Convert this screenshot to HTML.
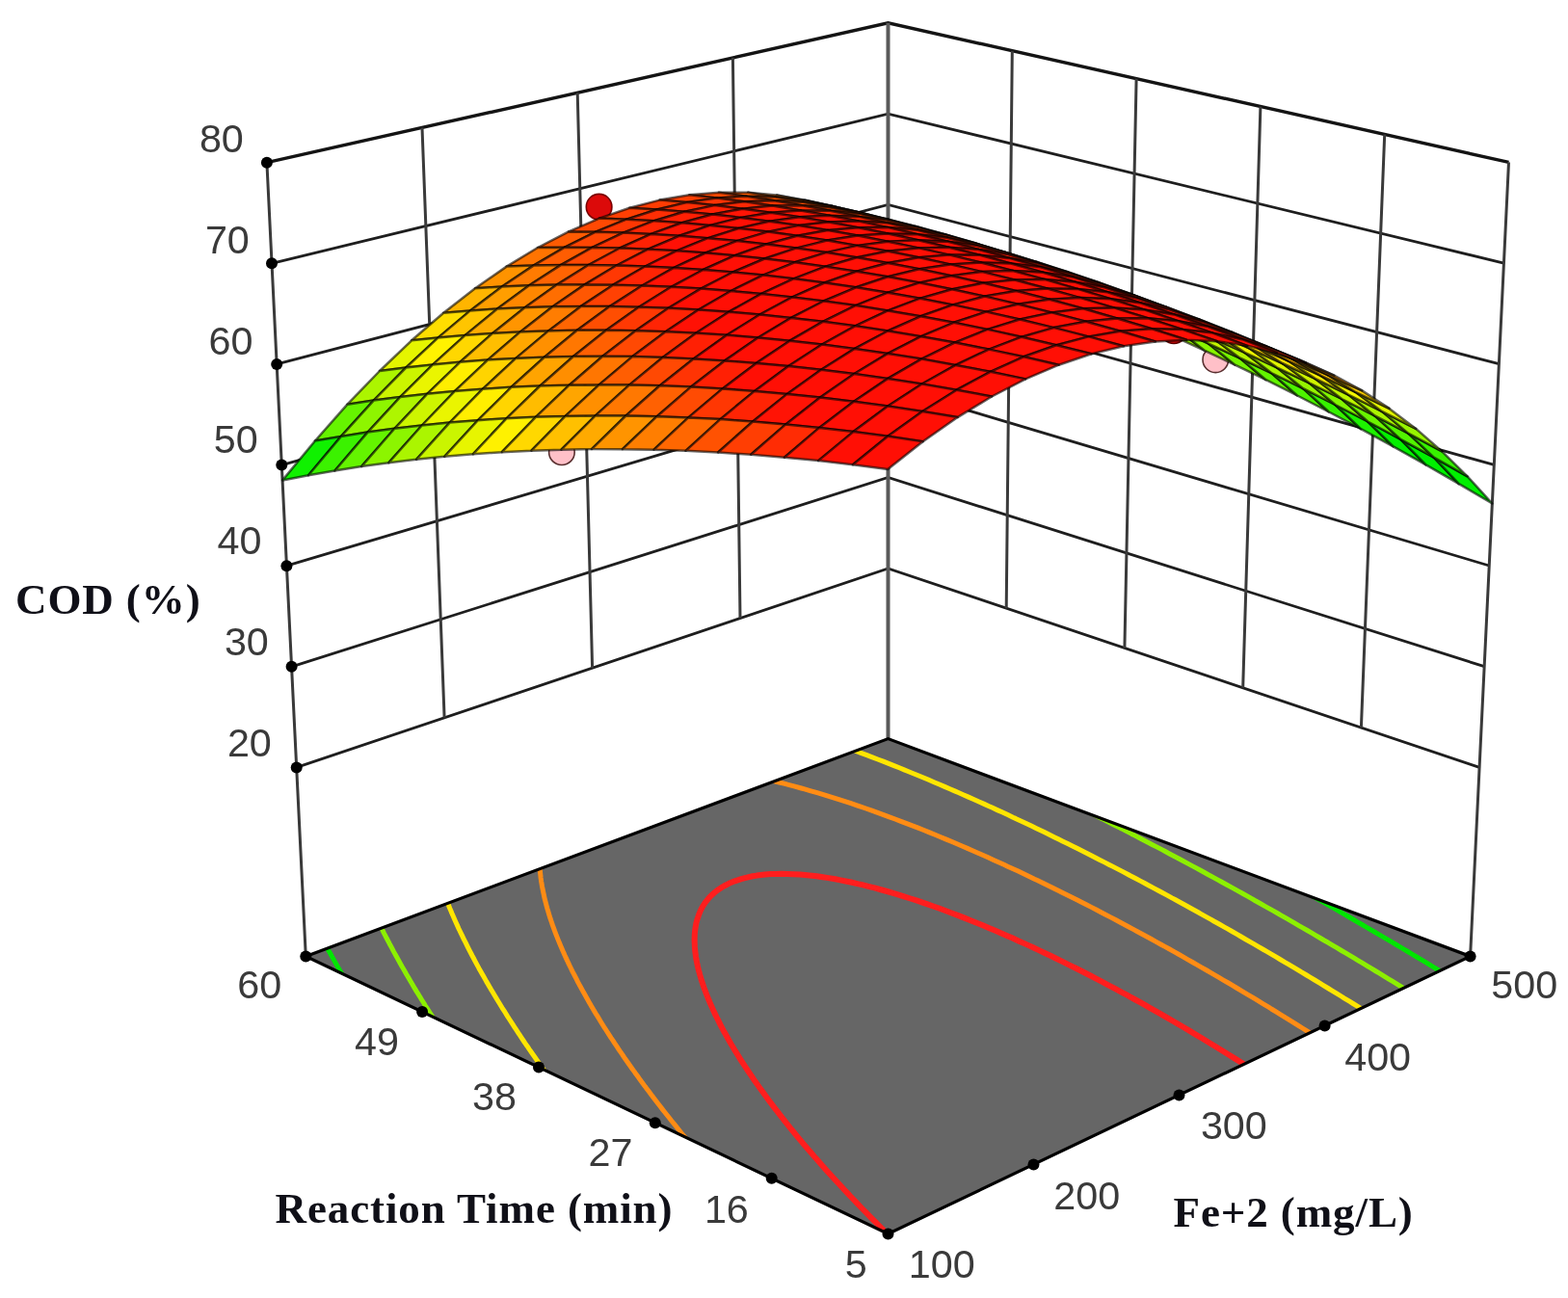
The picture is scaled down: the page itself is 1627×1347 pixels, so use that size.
<!DOCTYPE html>
<html lang="en"><head><meta charset="utf-8"><title>COD (%) response surface</title>
<style>html,body{margin:0;padding:0;background:#fff}body{width:1627px;height:1347px;overflow:hidden}svg{display:block;filter:blur(0.55px)}</style>
</head><body>
<svg width="1627" height="1347" viewBox="0 0 1627 1347">
<rect x="0" y="0" width="1627" height="1347" fill="#ffffff"/>
<g fill="none" stroke-linecap="butt">
<path d="M307.7 796.4L921.5 589.9L1535.1 796.4M302.6 691.8L921.5 495.5L1540.2 691.7M297.4 587.2L921.5 401.2L1545.2 587M292.3 482.6L921.5 306.8L1550.3 482.4M287.2 377.9L921.5 212.5L1555.4 377.7M282 273.3L921.5 118.1L1560.4 273.1" stroke="#1e1e1e" stroke-width="2.8" stroke-linejoin="miter"/>
<path d="M276.9 168.7L921.5 23.8L1565.5 168.4" stroke="#141414" stroke-width="3.4" stroke-linejoin="miter"/>
<path d="M438 132.5L461.1 744.8M599.2 96.2L614.6 693.2M760.4 60L768 641.5M1050.3 52.7L1044.2 631.2M1179.1 81.6L1166.9 672.5M1307.9 110.6L1289.7 713.8M1436.7 139.5L1412.4 755.1M276.9 168.7L317.3 992.4M1565.5 168.4L1525.6 992.4" stroke="#3a3a3a" stroke-width="3.0"/>
<path d="M921.5 23.8L921.5 766.6" stroke="#5a5a5a" stroke-width="4.0"/>
</g>
<defs><clipPath id="fc"><path d="M317.3 992.4L921.5 766.6L1525.6 992.4L921.5 1280.4Z"/></clipPath></defs>
<path d="M317.3 992.4L921.5 766.6L1525.6 992.4L921.5 1280.4Z" fill="#666666"/>
<g clip-path="url(#fc)" fill="none" stroke-width="5.0" stroke-linecap="butt" stroke-linejoin="round">
<path d="M1504.6 1014L1501.8 1012.3L1496.2 1008.9L1492 1006.3L1487.8 1003.8L1482.2 1000.4L1479.4 998.7L1473.9 995.4L1470.7 993.5L1465.5 990.4L1460 987L1457.2 985.4L1451.7 982.1L1449 980.5L1443.4 977.2L1438.2 974.1L1435.2 972.3L1429.7 969.1L1426.9 967.5L1421.5 964.3L1416 961.1L1413.3 959.5L1407.8 956.3L1404.8 954.5L1399.6 951.5L1394.2 948.4L1391.5 946.8L1386.1 943.7L1382 941.3L1377.9 939L1372.5 935.9L1369.8 934.4L1364.4 931.3L1359 928.3L1356.4 926.7L1351 923.7L1346.8 921.3L1342.9 919.2L1337.6 916.2L1334.8 914.6L1329.6 911.7L1324.2 908.7L1322.6 907.8" stroke="#00e600"/>
<path d="M335.7 976.6L336.7 978.6L337.9 980.8L339.9 984.4L340.9 986.4L342.3 988.8L344.2 992.3L345.3 994.2L346.8 996.9L348.6 1000.1L349.7 1002.1L351.5 1005.2L353.1 1008L354.3 1010L356.3 1013.6L357.7 1015.9L358.9 1017.9L361.3 1021.9L362.4 1023.9L363.9 1026.4L363.9 1026.4" stroke="#00e600"/>
<path d="M1467 1032L1462.5 1029.2L1458.6 1026.8L1453 1023.3L1450.2 1021.6L1444.6 1018.2L1441.1 1016.1L1436.3 1013.1L1430.7 1009.7L1427.9 1008L1422.4 1004.7L1419.3 1002.8L1414.1 999.7L1408.5 996.3L1405.8 994.7L1400.3 991.4L1397 989.4L1392 986.5L1386.5 983.2L1383.8 981.6L1378.3 978.3L1374.2 976L1370 973.5L1364.6 970.3L1361.8 968.7L1356.4 965.5L1350.9 962.4L1348.2 960.8L1342.8 957.6L1338.9 955.4L1334.6 952.9L1329.2 949.8L1326.5 948.3L1321.1 945.2L1315.6 942.1L1312.9 940.6L1307.5 937.5L1302.1 934.5L1299.4 932.9L1294.1 929.9L1289.4 927.3L1286 925.4L1280.6 922.4L1276.5 920.1L1272.6 918L1267.2 915L1263.3 912.9L1259.2 910.6L1253.8 907.7L1249.9 905.5L1245.8 903.3L1240.5 900.4L1236.2 898.1L1232.5 896.1L1227.2 893.3L1222.1 890.5L1219.2 889L1213.9 886.2L1208.6 883.3L1206 881.9L1200.7 879.1L1195.4 876.4L1192.7 875L1187.4 872.2L1182.1 869.5L1177.6 867.1L1174.2 865.4L1168.9 862.6L1163.7 859.9L1161 858.6L1155.7 855.9L1150.5 853.2L1145.3 850.6L1142.6 849.2L1137.3 846.6L1132.1 843.9L1128.2 842L1124.2 840L1118.9 837.4L1113.7 834.8L1110.3 833.2L1105.8 830.9L1100.5 828.4L1095.3 825.8L1091.4 823.9L1087.4 822L1082.2 819.5L1076.9 817L1071.7 814.5L1071.2 814.3" stroke="#8cf000"/>
<path d="M392.1 955.6L393.1 957.6L394.5 960.6L396 963.5L397 965.4L398.3 968.1L400 971.3L401 973.3L402.3 975.7L404.1 979.2L405.2 981.2L406.4 983.4L408.3 987.1L409.4 989.1L410.6 991.3L412.7 995L413.8 997L415 999.2L417.1 1003L418.3 1005L419.6 1007.3L421.7 1011L422.9 1013L424.4 1015.6L426.4 1019L427.6 1021L429.3 1023.9L431.2 1027.1L432.4 1029.1L434.5 1032.4L436.1 1035.1L437.4 1037.2L439.8 1041L441.1 1043.3L442.5 1045.4L445 1049.4L446.3 1051.4L448.1 1054.2L450.2 1057.6L451.5 1059.6L453.9 1063.2L455.5 1065.8L456.9 1067.8L459.6 1072L459.8 1072.4" stroke="#8cf000"/>
<path d="M1422.8 1053.2L1417.1 1049.7L1414.3 1047.9L1408.7 1044.4L1404 1041.5L1400.3 1039.2L1394.7 1035.8L1391.9 1034L1386.4 1030.6L1381.8 1027.8L1378 1025.5L1372.4 1022.1L1369.7 1020.4L1364.1 1017L1358.9 1013.9L1355.8 1012L1350.2 1008.7L1347.3 1006.9L1341.9 1003.7L1336.4 1000.4L1333.7 998.8L1328.1 995.5L1323.4 992.7L1319.9 990.6L1314.4 987.4L1311.1 985.5L1306.1 982.6L1300.6 979.4L1297.9 977.8L1292.4 974.7L1286.9 971.5L1284.2 969.9L1278.7 966.8L1273.3 963.7L1270.5 962.1L1265.1 959L1259.6 956L1256.9 954.4L1251.4 951.4L1246 948.3L1243.3 946.8L1237.8 943.8L1232.4 940.8L1229.7 939.3L1224.2 936.3L1218.8 933.3L1216.1 931.9L1210.7 928.9L1205.3 926L1202.5 924.5L1197.1 921.6L1191.7 918.7L1187.2 916.3L1183.6 914.4L1178.2 911.5L1172.8 908.7L1170.1 907.2L1164.7 904.4L1159.3 901.6L1154.5 899.1L1151.1 897.4L1145.7 894.6L1140.3 891.9L1137 890.2L1132.2 887.7L1126.8 885L1121.4 882.3L1118.5 880.8L1113.3 878.2L1107.9 875.5L1102.5 872.9L1098.7 871L1094.4 868.9L1089 866.3L1083.6 863.6L1078.2 861L1075.5 859.7L1070.1 857.1L1064.7 854.5L1059.3 852L1053.8 849.4L1051.1 848.2L1045.7 845.6L1040.3 843.1L1034.8 840.6L1029.4 838.1L1026.3 836.7L1021.2 834.4L1015.8 832L1010.3 829.5L1004.9 827.1L999.4 824.7L993.9 822.3L991.2 821.1L985.7 818.7L980.2 816.4L974.7 814L969.2 811.7L963.7 809.3L958.2 807L952.7 804.7L947.1 802.5L941.6 800.2L938.8 799.1L933.2 796.8L927.7 794.6L922.1 792.4L916.5 790.2L910.8 788L905.2 785.9L899.5 783.7L893.9 781.6L888.2 779.4L882.5 777.3L876.8 775.3L876.8 775.3" stroke="#ffe600"/>
<path d="M461.6 929.8L462.7 932.6L464 935.7L464.8 937.7L465.6 939.7L466.8 942.7L468.1 945.7L468.9 947.7L469.8 949.7L471.2 953L472.4 955.7L473.3 957.7L474.4 960.1L476 963.7L477 965.8L478 967.8L479.5 970.9L480.9 973.8L481.9 975.8L483.1 978.2L484.9 981.9L485.9 983.9L486.9 985.9L488.8 989.5L490.1 992L491.2 994L492.8 997.1L494.4 1000.1L495.5 1002.1L497 1004.9L498.9 1008.2L500 1010.2L501.5 1012.8L503.5 1016.4L504.6 1018.4L506.1 1020.9L508.2 1024.5L509.4 1026.6L510.9 1029L513.1 1032.7L514.3 1034.8L515.8 1037.3L518.1 1041L519.3 1043L521 1045.8L523.2 1049.2L524.5 1051.3L526.4 1054.4L528.4 1057.5L529.8 1059.6L532.1 1063.2L533.8 1065.8L535.2 1067.9L537.9 1072.1L539.3 1074.2L540.9 1076.6L543.5 1080.5L544.9 1082.6L547.1 1085.7L549.2 1088.9L550.7 1091L553.5 1095L555.1 1097.3L556.8 1099.7L559.5 1103.6L561 1105.8L563.5 1109.3L565.6 1112.1L567.1 1114.3L570.2 1118.5L571.8 1120.7L574.2 1123.9L576.5 1127.1L577.8 1128.9" stroke="#ffe600"/>
<path d="M1369.8 1078.6L1364.2 1075L1361.4 1073.2L1355.7 1069.7L1351.5 1067L1347.3 1064.4L1341.7 1060.8L1338.9 1059.1L1333.2 1055.6L1328.3 1052.6L1324.8 1050.4L1319.2 1047L1316.4 1045.2L1310.8 1041.8L1305.2 1038.4L1302.4 1036.7L1296.8 1033.4L1291.7 1030.3L1288.4 1028.3L1282.8 1025L1278.9 1022.6L1274.5 1020L1268.9 1016.8L1265.7 1014.9L1260.5 1011.9L1254.9 1008.6L1252.2 1007L1246.6 1003.8L1241 1000.6L1238.2 999L1232.6 995.8L1227.1 992.6L1223.8 990.8L1218.7 987.9L1213.2 984.8L1208.8 982.4L1204.8 980.2L1199.2 977.1L1193.7 974L1190.9 972.5L1185.3 969.5L1179.7 966.5L1176.8 964.9L1171.4 962L1165.8 959L1160.2 956L1157.5 954.5L1151.9 951.6L1146.3 948.7L1141.1 946L1137.9 944.3L1132.3 941.4L1126.7 938.6L1121.2 935.7L1118.4 934.3L1112.8 931.5L1107.2 928.7L1101.6 925.9L1098.7 924.5L1093.1 921.7L1087.5 919L1081.9 916.2L1076.3 913.5L1073.4 912.2L1067.8 909.5L1062.1 906.8L1056.5 904.1L1050.8 901.5L1045.1 898.9L1042.3 897.6L1036.6 895L1030.9 892.4L1025.2 889.8L1019.5 887.3L1013.7 884.7L1008 882.2L1003.8 880.4L999.4 878.5L993.6 876L987.8 873.5L982 871.1L976.2 868.7L970.3 866.3L964.4 863.9L958.6 861.5L952.7 859.2L946.7 856.9L940.8 854.6L934.8 852.3L928.8 850L922.8 847.8L916.8 845.6L910.7 843.4L904.6 841.2L898.5 839L892.3 836.9L889.2 835.8L883 833.7L876.7 831.7L870.4 829.6L864 827.6L857.6 825.6L854.4 824.6L847.9 822.7L841.4 820.8L834.8 818.9L831.5 818L824.8 816.1L818 814.3L814.6 813.4L807.7 811.7L800.7 810L797.1 809.2L790 807.6L790 807.6" stroke="#ff8c14"/>
<path d="M559.8 893.2L559.9 895.4L560 897.8L560.1 900.4L560.3 903.1L560.6 905.9L560.9 908.6L561.1 910.8L561.4 913L561.7 915.1L562.1 917.3L562.5 919.9L563.1 922.8L563.7 925.7L564.2 928L564.6 930.2L565.1 932.3L565.7 934.7L566.5 937.7L567.3 940.8L567.9 942.9L568.6 945.1L569.2 947.2L570.1 950.2L571.1 953.4L571.9 955.7L572.6 957.8L573.3 959.9L574.5 963.1L575.6 966.2L576.4 968.3L577.2 970.4L578.3 973.2L579.7 976.6L580.6 978.8L581.5 980.9L582.6 983.5L584.1 987L585.2 989.4L586.1 991.5L587.3 994.1L589 997.7L590 999.9L591 1002L592.5 1005L594.1 1008.3L595.2 1010.4L596.3 1012.5L598.2 1016.2L599.5 1018.8L600.6 1020.9L602.2 1023.8L604.1 1027.2L605.2 1029.3L606.5 1031.6L608.7 1035.5L610 1037.8L611.2 1039.9L613.3 1043.6L614.9 1046.2L616.1 1048.4L618.1 1051.7L620 1054.7L621.3 1056.8L623.2 1060L625.2 1063.2L626.5 1065.3L628.6 1068.5L630.6 1071.7L632 1073.8L634.1 1077.1L636.2 1080.2L637.6 1082.4L640 1085.9L641.9 1088.8L643.3 1090.9L646.1 1094.9L647.7 1097.4L649.2 1099.5L652.2 1103.8L653.8 1106L655.7 1108.7L658.4 1112.4L659.9 1114.6L662.5 1118.1L664.6 1121.1L666.2 1123.2L669.4 1127.6L671 1129.7L673.2 1132.6L675.9 1136.3L677.6 1138.4L680.7 1142.5L682.6 1145L684.6 1147.6L687.7 1151.6L689.4 1153.7L692.6 1157.8L694.6 1160.3L696.7 1163L699.9 1166.9L701.7 1169.1L705.2 1173.5L707 1175.8L709.6 1178.9L712.5 1182.4L714.3 1184.6L718 1189.1L719.9 1191.3L723.3 1195.3L725.5 1198L728 1200.9L728 1200.9" stroke="#ff8c14"/>
<path d="M1301.5 1111.3L1298.7 1109.5L1293 1105.9L1288.2 1102.8L1284.4 1100.4L1278.7 1096.9L1275.7 1095L1270.1 1091.5L1264.4 1088L1261.6 1086.2L1255.8 1082.7L1250.1 1079.2L1247.3 1077.5L1241.5 1074.1L1235.8 1070.6L1232.9 1068.9L1227.2 1065.5L1221.4 1062.1L1218.6 1060.5L1212.8 1057.1L1207.1 1053.8L1204.2 1052.2L1198.4 1048.9L1192.6 1045.6L1188.4 1043.2L1184 1040.7L1178.2 1037.5L1172.4 1034.3L1169.5 1032.7L1163.6 1029.6L1157.8 1026.4L1152 1023.3L1149.1 1021.8L1143.2 1018.7L1137.4 1015.6L1131.5 1012.5L1128.6 1011L1122.7 1008L1116.8 1005L1110.8 1002.1L1104.9 999.1L1101.9 997.6L1096 994.7L1090 991.8L1084 989L1078 986.1L1072 983.3L1066.8 980.9L1062.9 979.1L1056.8 976.4L1050.7 973.6L1044.6 970.9L1038.4 968.2L1032.2 965.6L1026 962.9L1019.8 960.3L1013.5 957.7L1007.2 955.2L1000.8 952.6L994.4 950.1L988 947.7L981.5 945.2L975 942.8L968.4 940.5L961.8 938.1L958 936.8L951.7 934.7L944.8 932.5L938 930.3L931 928.1L927.5 927.1L920.4 925L913.1 923L908.4 921.7L902.1 920.1L894.5 918.2L890.7 917.3L882.9 915.5L878.9 914.7L870.8 913.1L866.7 912.3L858.2 910.9L853.8 910.2L847.6 909.3L840 908.4L835.2 908L830.2 907.5L824 907.2L817.3 906.9L811.1 906.8L805.3 906.9L799.8 907.1L793.7 907.6L785.2 908.6L780.9 909.3L772.9 911.1L769.2 912.1L762.5 914.3L756.4 916.8L751.3 919.5L748.4 921.2L743.8 924.3L741.7 926L737.8 929.5L736 931.4L734.4 933.3L731.7 936.7L730 939.3L728.8 941.3L727.6 943.5L726.4 946.1L725.2 949L724.2 951.9L723.3 954.6L722.6 957.2L722.1 959.7L721.7 962.1L721.3 964.7L721 967.2L720.8 969.8L720.7 972.5L720.6 975.2L720.7 977.9L720.8 980.5L720.9 982.9L721.1 985.4L721.4 987.8L721.7 990.2L722 992.6L722.4 995.1L723 998.1L723.6 1001.2L724.3 1004.3L724.9 1006.8L725.6 1009.2L726.2 1011.5L726.9 1013.8L727.8 1017L728.9 1020.3L729.8 1023L730.6 1025.3L731.5 1027.6L732.5 1030.4L733.9 1033.9L735 1036.7L736 1039L736.9 1041.3L738.4 1044.5L740 1048.1L741 1050.3L742.1 1052.6L743.5 1055.5L745.4 1059.2L746.6 1061.6L747.7 1063.8L749.3 1066.9L751.3 1070.6L752.6 1072.8L753.8 1075L755.9 1078.7L757.6 1081.7L758.9 1084L760.6 1086.8L762.9 1090.7L764.3 1092.9L765.7 1095.1L768.3 1099.3L769.9 1101.8L771.4 1104.1L773.9 1107.9L775.8 1110.7L777.3 1113L779.8 1116.6L781.8 1119.7L783.4 1121.9L786 1125.6L788.1 1128.6L789.7 1130.8L792.6 1134.8L794.6 1137.5L796.2 1139.7L799.5 1144.2L801.2 1146.4L803.2 1149.1L806.4 1153.2L808.1 1155.4L810.8 1158.8L813.4 1162.1L815.1 1164.4L818.7 1168.8L820.5 1171.1L822.9 1174L826 1177.8L827.9 1180.1L831.5 1184.4L833.5 1186.8L836 1189.7L839.3 1193.6L841.2 1195.8L845.1 1200.4L847.1 1202.6L850.1 1206L853.1 1209.4L855.1 1211.7L859.1 1216.2L861.2 1218.5L865.3 1223L867.4 1225.3L870.7 1228.8L873.7 1232.1L876.1 1234.7L880.1 1238.9L882.2 1241.2L886.6 1245.8L888.8 1248.1L893.2 1252.7L895.4 1255L899.5 1259.2L902.1 1261.8L905.8 1265.6L908.9 1268.7L912.2 1272L915.8 1275.6L918.8 1278.6L922.8 1282.6L925.5 1285.2L929.9 1289.5L929.9 1289.5" stroke="#ff1e1e" stroke-width="6"/>
</g>
<path d="M317.3 992.4L921.5 766.6L1525.6 992.4L921.5 1280.4Z" fill="none" stroke="#000" stroke-width="3.2" stroke-linejoin="miter"/>
<circle cx="621.6" cy="214.7" r="13.3" fill="#dc0a0a" stroke="#7a0000" stroke-width="1.6"/>
<circle cx="1218" cy="343.2" r="13.3" fill="#dc0a0a" stroke="#5a0000" stroke-width="1.6"/>
<circle cx="582.9" cy="469.2" r="13.3" fill="#ffc0c8" stroke="#5a3030" stroke-width="1.6"/>
<circle cx="1261.3" cy="373.3" r="13.3" fill="#ffc0c8" stroke="#5a3030" stroke-width="1.6"/>
<g stroke="#000" stroke-opacity="0.6" stroke-width="2.5" stroke-linejoin="round">
<path d="M921.4 233.6L949.6 247L921.4 238.5L893.1 225.8Z" fill="#e2f500"/>
<path d="M950 241.8L978.2 256L949.6 247L921.4 233.6Z" fill="#dff500"/>
<path d="M892.8 222.5L921.4 233.6L893.1 225.8L864.5 215.5Z" fill="#ffe100"/>
<path d="M978.9 250.7L1007 265.6L978.2 256L950 241.8Z" fill="#dcf500"/>
<path d="M921.4 230.1L950 241.8L921.4 233.6L892.8 222.5Z" fill="#ffe100"/>
<path d="M863.7 214L892.8 222.5L864.5 215.5L835.4 207.8Z" fill="#ffb800"/>
<path d="M1008.2 260.1L1036.2 275.8L1007 265.6L978.9 250.7Z" fill="#d8f500"/>
<path d="M950.4 238.2L978.9 250.7L950 241.8L921.4 230.1Z" fill="#ffe300"/>
<path d="M892.4 220.8L921.4 230.1L892.8 222.5L863.7 214Z" fill="#ffb600"/>
<path d="M834.3 208L863.7 214L835.4 207.8L805.9 202.5Z" fill="#ff9500"/>
<path d="M1037.7 270.1L1065.7 286.6L1036.2 275.8L1008.2 260.1Z" fill="#d2f500"/>
<path d="M979.7 246.8L1008.2 260.1L978.9 250.7L950.4 238.2Z" fill="#ffe500"/>
<path d="M921.4 228.1L950.4 238.2L921.4 230.1L892.4 220.8Z" fill="#ffb600"/>
<path d="M863 214L892.4 220.8L863.7 214L834.3 208Z" fill="#ff9200"/>
<path d="M804.5 204.5L834.3 208L805.9 202.5L776.1 199.8Z" fill="#ff7601"/>
<path d="M1067.6 280.6L1095.5 297.9L1065.7 286.6L1037.7 270.1Z" fill="#cbf500"/>
<path d="M1009.3 256L1037.7 270.1L1008.2 260.1L979.7 246.8Z" fill="#ffe800"/>
<path d="M950.7 235.9L979.7 246.8L950.4 238.2L921.4 228.1Z" fill="#ffb600"/>
<path d="M892 220.5L921.4 228.1L892.4 220.8L863 214Z" fill="#ff9000"/>
<path d="M1097.9 291.8L1125.7 309.8L1095.5 297.9L1067.6 280.6Z" fill="#c3f500"/>
<path d="M833.1 209.8L863 214L834.3 208L804.5 204.5Z" fill="#ff7001"/>
<path d="M774.3 203.7L804.5 204.5L776.1 199.8L745.9 199.7Z" fill="#ff5d02"/>
<path d="M1039.3 265.8L1067.6 280.6L1037.7 270.1L1009.3 256Z" fill="#ffed00"/>
<path d="M980.4 244.4L1009.3 256L979.7 246.8L950.7 235.9Z" fill="#ffb800"/>
<path d="M921.4 227.6L950.7 235.9L921.4 228.1L892 220.5Z" fill="#ff8e00"/>
<path d="M1128.5 303.5L1156.2 322.3L1125.7 309.8L1097.9 291.8Z" fill="#baf500"/>
<path d="M862.2 215.5L892 220.5L863 214L833.1 209.8Z" fill="#ff6b01"/>
<path d="M803 208.2L833.1 209.8L804.5 204.5L774.3 203.7Z" fill="#ff5402"/>
<path d="M743.7 205.5L774.3 203.7L745.9 199.7L715.4 202.3Z" fill="#ff4a03"/>
<path d="M1069.6 276.2L1097.9 291.8L1067.6 280.6L1039.3 265.8Z" fill="#fff300"/>
<path d="M1010.5 253.4L1039.3 265.8L1009.3 256L980.4 244.4Z" fill="#ffbb00"/>
<path d="M951.1 235.3L980.4 244.4L950.7 235.9L921.4 227.6Z" fill="#ff8e00"/>
<path d="M1159.4 315.9L1187 335.5L1156.2 322.3L1128.5 303.5Z" fill="#aff500"/>
<path d="M891.6 221.9L921.4 227.6L892 220.5L862.2 215.5Z" fill="#ff6801"/>
<path d="M832 213.2L862.2 215.5L833.1 209.8L803 208.2Z" fill="#ff4e02"/>
<path d="M772.4 209.3L803 208.2L774.3 203.7L743.7 205.5Z" fill="#ff4003"/>
<path d="M712.8 210.1L743.7 205.5L715.4 202.3L684.5 207.6Z" fill="#ff3f03"/>
<path d="M1100.3 287.1L1128.5 303.5L1097.9 291.8L1069.6 276.2Z" fill="#faf500"/>
<path d="M1040.8 263L1069.6 276.2L1039.3 265.8L1010.5 253.4Z" fill="#ffbf00"/>
<path d="M1190.6 328.8L1218.1 349.2L1187 335.5L1159.4 315.9Z" fill="#a4f500"/>
<path d="M981.2 243.5L1010.5 253.4L980.4 244.4L951.1 235.3Z" fill="#ff8f00"/>
<path d="M921.4 228.8L951.1 235.3L921.4 227.6L891.6 221.9Z" fill="#ff6502"/>
<path d="M861.4 218.8L891.6 221.9L862.2 215.5L832 213.2Z" fill="#ff4803"/>
<path d="M1131.3 298.7L1159.4 315.9L1128.5 303.5L1100.3 287.1Z" fill="#f2f500"/>
<path d="M681.6 217.5L712.8 210.1L684.5 207.6L653.3 215.7Z" fill="#ff3c03"/>
<path d="M801.4 213.6L832 213.2L803 208.2L772.4 209.3Z" fill="#ff3703"/>
<path d="M741.5 213.1L772.4 209.3L743.7 205.5L712.8 210.1Z" fill="#ff3304"/>
<path d="M1071.6 273.2L1100.3 287.1L1069.6 276.2L1040.8 263Z" fill="#ffc400"/>
<path d="M1222.2 342.4L1249.6 363.6L1218.1 349.2L1190.6 328.8Z" fill="#97f500"/>
<path d="M1011.6 252.3L1040.8 263L1010.5 253.4L981.2 243.5Z" fill="#ff9100"/>
<path d="M951.5 236.2L981.2 243.5L951.1 235.3L921.4 228.8Z" fill="#ff6402"/>
<path d="M1162.6 310.9L1190.6 328.8L1159.4 315.9L1131.3 298.7Z" fill="#e8f500"/>
<path d="M891.2 224.9L921.4 228.8L891.6 221.9L861.4 218.8Z" fill="#ff4403"/>
<path d="M650 227.7L681.6 217.5L653.3 215.7L621.8 226.6Z" fill="#ff3f03"/>
<path d="M830.8 218.4L861.4 218.8L832 213.2L801.4 213.6Z" fill="#ff2f04"/>
<path d="M710.2 219.8L741.5 213.1L712.8 210.1L681.6 217.5Z" fill="#ff2d04"/>
<path d="M770.5 216.7L801.4 213.6L772.4 209.3L741.5 213.1Z" fill="#ff2804"/>
<path d="M1102.7 283.9L1131.3 298.7L1100.3 287.1L1071.6 273.2Z" fill="#ffca00"/>
<path d="M1254.2 356.7L1281.4 378.6L1249.6 363.6L1222.2 342.4Z" fill="#88f500"/>
<path d="M1042.4 261.7L1071.6 273.2L1040.8 263L1011.6 252.3Z" fill="#ff9400"/>
<path d="M982 244.2L1011.6 252.3L981.2 243.5L951.5 236.2Z" fill="#ff6502"/>
<path d="M1194.4 323.7L1222.2 342.4L1190.6 328.8L1162.6 310.9Z" fill="#ddf500"/>
<path d="M618.1 240.7L650 227.7L621.8 226.6L590 240.4Z" fill="#ff4903"/>
<path d="M921.3 231.6L951.5 236.2L921.4 228.8L891.2 224.9Z" fill="#ff4003"/>
<path d="M678.6 229.2L710.2 219.8L681.6 217.5L650 227.7Z" fill="#ff2e04"/>
<path d="M860.6 223.7L891.2 224.9L861.4 218.8L830.8 218.4Z" fill="#ff2904"/>
<path d="M739.2 222.5L770.5 216.7L741.5 213.1L710.2 219.8Z" fill="#ff2004"/>
<path d="M799.9 220.7L830.8 218.4L801.4 213.6L770.5 216.7Z" fill="#ff1e04"/>
<path d="M1134.1 295.3L1162.6 310.9L1131.3 298.7L1102.7 283.9Z" fill="#ffd100"/>
<path d="M1286.5 371.5L1313.6 394.2L1281.4 378.6L1254.2 356.7Z" fill="#76f400"/>
<path d="M1073.6 271.7L1102.7 283.9L1071.6 273.2L1042.4 261.7Z" fill="#ff9800"/>
<path d="M1012.8 252.9L1042.4 261.7L1011.6 252.3L982 244.2Z" fill="#ff6602"/>
<path d="M1226.4 337.1L1254.2 356.7L1222.2 342.4L1194.4 323.7Z" fill="#d1f500"/>
<path d="M586 256.7L618.1 240.7L590 240.4L557.9 257Z" fill="#ff5b02"/>
<path d="M951.9 238.8L982 244.2L951.5 236.2L921.3 231.6Z" fill="#ff3f03"/>
<path d="M646.6 241.6L678.6 229.2L650 227.7L618.1 240.7Z" fill="#ff3703"/>
<path d="M890.8 229.6L921.3 231.6L891.2 224.9L860.6 223.7Z" fill="#ff2404"/>
<path d="M707.5 231.3L739.2 222.5L710.2 219.8L678.6 229.2Z" fill="#ff1f04"/>
<path d="M829.7 225.3L860.6 223.7L830.8 218.4L799.9 220.7Z" fill="#ff1505"/>
<path d="M768.5 225.9L799.9 220.7L770.5 216.7L739.2 222.5Z" fill="#ff1405"/>
<path d="M1166 307.3L1194.4 323.7L1162.6 310.9L1134.1 295.3Z" fill="#ffd900"/>
<path d="M1319.2 387L1346.1 410.5L1313.6 394.2L1286.5 371.5Z" fill="#62f300"/>
<path d="M1105.2 282.3L1134.1 295.3L1102.7 283.9L1073.6 271.7Z" fill="#ff9e00"/>
<path d="M553.5 275.6L586 256.7L557.9 257L525.6 276.6Z" fill="#ff7401"/>
<path d="M1258.9 351.2L1286.5 371.5L1254.2 356.7L1226.4 337.1Z" fill="#c4f500"/>
<path d="M1044.1 262.1L1073.6 271.7L1042.4 261.7L1012.8 252.9Z" fill="#ff6901"/>
<path d="M614.4 256.9L646.6 241.6L618.1 240.7L586 256.7Z" fill="#ff4603"/>
<path d="M982.8 246.7L1012.8 252.9L982 244.2L951.9 238.8Z" fill="#ff3e03"/>
<path d="M675.5 242.9L707.5 231.3L678.6 229.2L646.6 241.6Z" fill="#ff2504"/>
<path d="M921.3 236.1L951.9 238.8L921.3 231.6L890.8 229.6Z" fill="#ff2004"/>
<path d="M1198.2 320L1226.4 337.1L1194.4 323.7L1166 307.3Z" fill="#ffe200"/>
<path d="M1352.2 403.2L1378.9 427.5L1346.1 410.5L1319.2 387Z" fill="#4df300"/>
<path d="M736.8 233.9L768.5 225.9L739.2 222.5L707.5 231.3Z" fill="#ff1105"/>
<path d="M859.8 230.5L890.8 229.6L860.6 223.7L829.7 225.3Z" fill="#ff0f05"/>
<path d="M798.3 229.7L829.7 225.3L799.9 220.7L768.5 225.9Z" fill="#ff0f05"/>
<path d="M1137.1 293.5L1166 307.3L1134.1 295.3L1105.2 282.3Z" fill="#ffa400"/>
<path d="M520.8 297.5L553.5 275.6L525.6 276.6L493 299.2Z" fill="#ff9300"/>
<path d="M1291.7 365.9L1319.2 387L1286.5 371.5L1258.9 351.2Z" fill="#b6f500"/>
<path d="M1075.7 271.9L1105.2 282.3L1073.6 271.7L1044.1 262.1Z" fill="#ff6d01"/>
<path d="M581.8 275.1L614.4 256.9L586 256.7L553.5 275.6Z" fill="#ff5d02"/>
<path d="M1014.1 255.1L1044.1 262.1L1012.8 252.9L982.8 246.7Z" fill="#ff3f03"/>
<path d="M643.2 257.5L675.5 242.9L646.6 241.6L614.4 256.9Z" fill="#ff3304"/>
<path d="M1230.7 333.2L1258.9 351.2L1226.4 337.1L1198.2 320Z" fill="#ffed00"/>
<path d="M1385.5 420L1412.1 445.1L1378.9 427.5L1352.2 403.2Z" fill="#36f200"/>
<path d="M952.3 243.2L982.8 246.7L951.9 238.8L921.3 236.1Z" fill="#ff1d04"/>
<path d="M704.8 244.8L736.8 233.9L707.5 231.3L675.5 242.9Z" fill="#ff1505"/>
<path d="M890.4 236.2L921.3 236.1L890.8 229.6L859.8 230.5Z" fill="#ff0f05"/>
<path d="M766.6 237L798.3 229.7L768.5 225.9L736.8 233.9Z" fill="#ff0f05"/>
<path d="M828.4 234.1L859.8 230.5L829.7 225.3L798.3 229.7Z" fill="#ff0f05"/>
<path d="M487.9 322.4L520.8 297.5L493 299.2L460.2 324.8Z" fill="#ffb500"/>
<path d="M1169.4 305.4L1198.2 320L1166 307.3L1137.1 293.5Z" fill="#ffac00"/>
<path d="M1324.8 381.3L1352.2 403.2L1319.2 387L1291.7 365.9Z" fill="#a6f500"/>
<path d="M549 296.3L581.8 275.1L553.5 275.6L520.8 297.5Z" fill="#ff7b01"/>
<path d="M1107.7 282.3L1137.1 293.5L1105.2 282.3L1075.7 271.9Z" fill="#ff7201"/>
<path d="M610.6 275L643.2 257.5L614.4 256.9L581.8 275.1Z" fill="#ff4803"/>
<path d="M1045.7 264.1L1075.7 271.9L1044.1 262.1L1014.1 255.1Z" fill="#ff4103"/>
<path d="M1419.3 437.5L1445.7 463.4L1412.1 445.1L1385.5 420Z" fill="#1df100"/>
<path d="M1263.6 347.2L1291.7 365.9L1258.9 351.2L1230.7 333.2Z" fill="#fbf500"/>
<path d="M672.4 258.7L704.8 244.8L675.5 242.9L643.2 257.5Z" fill="#ff2104"/>
<path d="M983.6 250.8L1014.1 255.1L982.8 246.7L952.3 243.2Z" fill="#ff1c04"/>
<path d="M454.7 350.4L487.9 322.4L460.2 324.8L427.1 353.3Z" fill="#ffde00"/>
<path d="M734.5 247.2L766.6 237L736.8 233.9L704.8 244.8Z" fill="#ff0f05"/>
<path d="M921.3 242.5L952.3 243.2L921.3 236.1L890.4 236.2Z" fill="#ff0f05"/>
<path d="M796.7 240.6L828.4 234.1L798.3 229.7L766.6 237Z" fill="#ff0f05"/>
<path d="M859 239.1L890.4 236.2L859.8 230.5L828.4 234.1Z" fill="#ff0f05"/>
<path d="M1202 317.8L1230.7 333.2L1198.2 320L1169.4 305.4Z" fill="#ffb400"/>
<path d="M1358.4 397.3L1385.5 420L1352.2 403.2L1324.8 381.3Z" fill="#95f500"/>
<path d="M516 320.6L549 296.3L520.8 297.5L487.9 322.4Z" fill="#ff9e00"/>
<path d="M1140.1 293.3L1169.4 305.4L1137.1 293.5L1107.7 282.3Z" fill="#ff7901"/>
<path d="M577.7 295.6L610.6 275L581.8 275.1L549 296.3Z" fill="#ff6402"/>
<path d="M1453.3 455.8L1479.6 482.4L1445.7 463.4L1419.3 437.5Z" fill="#04f000"/>
<path d="M421.3 381.5L454.7 350.4L427.1 353.3L393.9 385Z" fill="#e5f500"/>
<path d="M1296.9 361.7L1324.8 381.3L1291.7 365.9L1263.6 347.2Z" fill="#eef500"/>
<path d="M1077.8 273.7L1107.7 282.3L1075.7 271.9L1045.7 264.1Z" fill="#ff4403"/>
<path d="M639.7 275.5L672.4 258.7L643.2 257.5L610.6 275Z" fill="#ff3304"/>
<path d="M1015.3 259L1045.7 264.1L1014.1 255.1L983.6 250.8Z" fill="#ff1b05"/>
<path d="M702 260.3L734.5 247.2L704.8 244.8L672.4 258.7Z" fill="#ff1005"/>
<path d="M952.7 249.3L983.6 250.8L952.3 243.2L921.3 242.5Z" fill="#ff0f05"/>
<path d="M482.7 347.9L516 320.6L487.9 322.4L454.7 350.4Z" fill="#ffc500"/>
<path d="M764.6 250.1L796.7 240.6L766.6 237L734.5 247.2Z" fill="#ff0f05"/>
<path d="M1235.1 331L1263.6 347.2L1230.7 333.2L1202 317.8Z" fill="#ffbe00"/>
<path d="M890 244.6L921.3 242.5L890.4 236.2L859 239.1Z" fill="#ff0f05"/>
<path d="M827.2 244.8L859 239.1L828.4 234.1L796.7 240.6Z" fill="#ff0f05"/>
<path d="M1392.3 414L1419.3 437.5L1385.5 420L1358.4 397.3Z" fill="#82f500"/>
<path d="M387.7 415.6L421.3 381.5L393.9 385L360.4 419.7Z" fill="#acf500"/>
<path d="M544.5 319.2L577.7 295.6L549 296.3L516 320.6Z" fill="#ff8700"/>
<path d="M1172.8 305L1202 317.8L1169.4 305.4L1140.1 293.3Z" fill="#ff8100"/>
<path d="M1487.8 474.7L1513.8 502.1L1479.6 482.4L1453.3 455.8Z" fill="#00f000"/>
<path d="M1330.6 377L1358.4 397.3L1324.8 381.3L1296.9 361.7Z" fill="#dff500"/>
<path d="M606.7 295.4L639.7 275.5L610.6 275L577.7 295.6Z" fill="#ff4d03"/>
<path d="M1110.2 284L1140.1 293.3L1107.7 282.3L1077.8 273.7Z" fill="#ff4803"/>
<path d="M449.1 378.4L482.7 347.9L454.7 350.4L421.3 381.5Z" fill="#fff200"/>
<path d="M669.3 276.5L702 260.3L672.4 258.7L639.7 275.5Z" fill="#ff2004"/>
<path d="M1047.4 267.9L1077.8 273.7L1045.7 264.1L1015.3 259Z" fill="#ff1c04"/>
<path d="M1268.5 344.7L1296.9 361.7L1263.6 347.2L1235.1 331Z" fill="#ffc900"/>
<path d="M732.1 262.5L764.6 250.1L734.5 247.2L702 260.3Z" fill="#ff0f05"/>
<path d="M353.9 452.9L387.7 415.6L360.4 419.7L326.9 457.5Z" fill="#66f400"/>
<path d="M984.4 256.8L1015.3 259L983.6 250.8L952.7 249.3Z" fill="#ff0f05"/>
<path d="M1426.5 431.4L1453.3 455.8L1419.3 437.5L1392.3 414Z" fill="#6af400"/>
<path d="M795.1 253.5L827.2 244.8L796.7 240.6L764.6 250.1Z" fill="#ff0f05"/>
<path d="M921.3 250.7L952.7 249.3L921.3 242.5L890 244.6Z" fill="#ff0f05"/>
<path d="M858.2 249.6L890 244.6L859 239.1L827.2 244.8Z" fill="#ff0f05"/>
<path d="M511.1 345.9L544.5 319.2L516 320.6L482.7 347.9Z" fill="#ffac00"/>
<path d="M1206 317.4L1235.1 331L1202 317.8L1172.8 305Z" fill="#ff8a00"/>
<path d="M1522.6 494.3L1548.4 522.5L1513.8 502.1L1487.8 474.7Z" fill="#00f000"/>
<path d="M573.4 318.3L606.7 295.4L577.7 295.6L544.5 319.2Z" fill="#ff6e01"/>
<path d="M415.4 411.9L449.1 378.4L421.3 381.5L387.7 415.6Z" fill="#ccf500"/>
<path d="M1364.7 392.9L1392.3 414L1358.4 397.3L1330.6 377Z" fill="#cff500"/>
<path d="M1143.1 294.9L1172.8 305L1140.1 293.3L1110.2 284Z" fill="#ff4e02"/>
<path d="M320 493.2L353.9 452.9L326.9 457.5L293.1 498.4Z" fill="#10f100"/>
<path d="M636.2 295.7L669.3 276.5L639.7 275.5L606.7 295.4Z" fill="#ff3803"/>
<path d="M1079.9 277.3L1110.2 284L1077.8 273.7L1047.4 267.9Z" fill="#ff1f04"/>
<path d="M477.4 375.8L511.1 345.9L482.7 347.9L449.1 378.4Z" fill="#ffd700"/>
<path d="M1461.2 449.6L1487.8 474.7L1453.3 455.8L1426.5 431.4Z" fill="#52f300"/>
<path d="M699.2 277.9L732.1 262.5L702 260.3L669.3 276.5Z" fill="#ff0f05"/>
<path d="M1302.3 359.2L1330.6 377L1296.9 361.7L1268.5 344.7Z" fill="#ffd500"/>
<path d="M1016.6 264.8L1047.4 267.9L1015.3 259L984.4 256.8Z" fill="#ff0f05"/>
<path d="M762.5 265.2L795.1 253.5L764.6 250.1L732.1 262.5Z" fill="#ff0f05"/>
<path d="M953.1 257.4L984.4 256.8L952.7 249.3L921.3 250.7Z" fill="#ff0f05"/>
<path d="M826 257.6L858.2 249.6L827.2 244.8L795.1 253.5Z" fill="#ff0f05"/>
<path d="M889.5 254.9L921.3 250.7L890 244.6L858.2 249.6Z" fill="#ff0f05"/>
<path d="M381.5 448.6L415.4 411.9L387.7 415.6L353.9 452.9Z" fill="#8ef500"/>
<path d="M539.9 344.4L573.4 318.3L544.5 319.2L511.1 345.9Z" fill="#ff9500"/>
<path d="M1239.5 330.3L1268.5 344.7L1235.1 331L1206 317.4Z" fill="#ff9300"/>
<path d="M1399.1 409.5L1426.5 431.4L1392.3 414L1364.7 392.9Z" fill="#bef500"/>
<path d="M602.8 317.9L636.2 295.7L606.7 295.4L573.4 318.3Z" fill="#ff5702"/>
<path d="M1176.3 306.4L1206 317.4L1172.8 305L1143.1 294.9Z" fill="#ff5502"/>
<path d="M443.5 408.7L477.4 375.8L449.1 378.4L415.4 411.9Z" fill="#eaf500"/>
<path d="M1496.2 468.4L1522.6 494.3L1487.8 474.7L1461.2 449.6Z" fill="#37f200"/>
<path d="M666.1 296.5L699.2 277.9L669.3 276.5L636.2 295.7Z" fill="#ff2404"/>
<path d="M347.4 488.5L381.5 448.6L353.9 452.9L320 493.2Z" fill="#3bf200"/>
<path d="M1112.9 287.4L1143.1 294.9L1110.2 284L1079.9 277.3Z" fill="#ff2204"/>
<path d="M1336.5 374.3L1364.7 392.9L1330.6 377L1302.3 359.2Z" fill="#ffe200"/>
<path d="M729.6 280L762.5 265.2L732.1 262.5L699.2 277.9Z" fill="#ff0f05"/>
<path d="M1049.1 273.5L1079.9 277.3L1047.4 267.9L1016.6 264.8Z" fill="#ff0f05"/>
<path d="M506.1 373.6L539.9 344.4L511.1 345.9L477.4 375.8Z" fill="#ffbe00"/>
<path d="M793.4 268.5L826 257.6L795.1 253.5L762.5 265.2Z" fill="#ff0f05"/>
<path d="M985.3 264.6L1016.6 264.8L984.4 256.8L953.1 257.4Z" fill="#ff0f05"/>
<path d="M857.3 262.1L889.5 254.9L858.2 249.6L826 257.6Z" fill="#ff0f05"/>
<path d="M921.3 260.8L953.1 257.4L921.3 250.7L889.5 254.9Z" fill="#ff0f05"/>
<path d="M1273.5 344L1302.3 359.2L1268.5 344.7L1239.5 330.3Z" fill="#ff9d00"/>
<path d="M1433.9 426.9L1461.2 449.6L1426.5 431.4L1399.1 409.5Z" fill="#abf500"/>
<path d="M409.4 444.8L443.5 408.7L415.4 411.9L381.5 448.6Z" fill="#aef500"/>
<path d="M569.1 343.4L602.8 317.9L573.4 318.3L539.9 344.4Z" fill="#ff7d01"/>
<path d="M1210 318.6L1239.5 330.3L1206 317.4L1176.3 306.4Z" fill="#ff5d02"/>
<path d="M632.6 318.1L666.1 296.5L636.2 295.7L602.8 317.9Z" fill="#ff4103"/>
<path d="M1371.1 390.1L1399.1 409.5L1364.7 392.9L1336.5 374.3Z" fill="#fff000"/>
<path d="M472 405.9L506.1 373.6L477.4 375.8L443.5 408.7Z" fill="#ffee00"/>
<path d="M1146.2 298.2L1176.3 306.4L1143.1 294.9L1112.9 287.4Z" fill="#ff2704"/>
<path d="M696.4 297.8L729.6 280L699.2 277.9L666.1 296.5Z" fill="#ff1205"/>
<path d="M375.1 484.1L409.4 444.8L381.5 448.6L347.4 488.5Z" fill="#64f400"/>
<path d="M1082.1 282.8L1112.9 287.4L1079.9 277.3L1049.1 273.5Z" fill="#ff0f05"/>
<path d="M760.5 282.5L793.4 268.5L762.5 265.2L729.6 280Z" fill="#ff0f05"/>
<path d="M1017.9 272.5L1049.1 273.5L1016.6 264.8L985.3 264.6Z" fill="#ff0f05"/>
<path d="M1307.8 358.3L1336.5 374.3L1302.3 359.2L1273.5 344Z" fill="#ffa800"/>
<path d="M535.2 371.9L569.1 343.4L539.9 344.4L506.1 373.6Z" fill="#ffa700"/>
<path d="M824.7 272.3L857.3 262.1L826 257.6L793.4 268.5Z" fill="#ff0f05"/>
<path d="M953.5 267.3L985.3 264.6L953.1 257.4L921.3 260.8Z" fill="#ff0f05"/>
<path d="M1469.2 444.9L1496.2 468.4L1461.2 449.6L1433.9 426.9Z" fill="#98f500"/>
<path d="M889.1 267.3L921.3 260.8L889.5 254.9L857.3 262.1Z" fill="#ff0f05"/>
<path d="M437.8 441.5L472 405.9L443.5 408.7L409.4 444.8Z" fill="#cdf500"/>
<path d="M1244.1 331.4L1273.5 344L1239.5 330.3L1210 318.6Z" fill="#ff6701"/>
<path d="M598.8 342.8L632.6 318.1L602.8 317.9L569.1 343.4Z" fill="#ff6502"/>
<path d="M1406.1 406.6L1433.9 426.9L1399.1 409.5L1371.1 390.1Z" fill="#f4f500"/>
<path d="M1179.9 309.5L1210 318.6L1176.3 306.4L1146.2 298.2Z" fill="#ff2e04"/>
<path d="M662.8 318.7L696.4 297.8L666.1 296.5L632.6 318.1Z" fill="#ff2c04"/>
<path d="M501 403.7L535.2 371.9L506.1 373.6L472 405.9Z" fill="#ffd400"/>
<path d="M1115.5 292.7L1146.2 298.2L1112.9 287.4L1082.1 282.8Z" fill="#ff0f05"/>
<path d="M727.2 299.6L760.5 282.5L729.6 280L696.4 297.8Z" fill="#ff0f05"/>
<path d="M1342.6 373.3L1371.1 390.1L1336.5 374.3L1307.8 358.3Z" fill="#ffb500"/>
<path d="M1050.9 281L1082.1 282.8L1049.1 273.5L1017.9 272.5Z" fill="#ff0f05"/>
<path d="M791.7 285.6L824.7 272.3L793.4 268.5L760.5 282.5Z" fill="#ff0f05"/>
<path d="M403.4 480.2L437.8 441.5L409.4 444.8L375.1 484.1Z" fill="#8cf500"/>
<path d="M986.1 274.4L1017.9 272.5L985.3 264.6L953.5 267.3Z" fill="#ff0f05"/>
<path d="M856.5 276.7L889.1 267.3L857.3 262.1L824.7 272.3Z" fill="#ff0f05"/>
<path d="M921.3 273L953.5 267.3L921.3 260.8L889.1 267.3Z" fill="#ff0f05"/>
<path d="M564.8 370.7L598.8 342.8L569.1 343.4L535.2 371.9Z" fill="#ff9000"/>
<path d="M1278.5 344.9L1307.8 358.3L1273.5 344L1244.1 331.4Z" fill="#ff7101"/>
<path d="M1441.5 423.9L1469.2 444.9L1433.9 426.9L1406.1 406.6Z" fill="#e2f500"/>
<path d="M629 342.7L662.8 318.7L632.6 318.1L598.8 342.8Z" fill="#ff4e02"/>
<path d="M466.6 438.6L501 403.7L472 405.9L437.8 441.5Z" fill="#eaf500"/>
<path d="M1214.1 321.6L1244.1 331.4L1210 318.6L1179.9 309.5Z" fill="#ff3503"/>
<path d="M693.5 319.8L727.2 299.6L696.4 297.8L662.8 318.7Z" fill="#ff1905"/>
<path d="M1149.3 303.3L1179.9 309.5L1146.2 298.2L1115.5 292.7Z" fill="#ff0f05"/>
<path d="M1377.7 389L1406.1 406.6L1371.1 390.1L1342.6 373.3Z" fill="#ffc200"/>
<path d="M530.5 401.8L564.8 370.7L535.2 371.9L501 403.7Z" fill="#ffbc00"/>
<path d="M758.4 302L791.7 285.6L760.5 282.5L727.2 299.6Z" fill="#ff0f05"/>
<path d="M1084.3 290.1L1115.5 292.7L1082.1 282.8L1050.9 281Z" fill="#ff0f05"/>
<path d="M823.4 289.3L856.5 276.7L824.7 272.3L791.7 285.6Z" fill="#ff0f05"/>
<path d="M1019.2 282.1L1050.9 281L1017.9 272.5L986.1 274.4Z" fill="#ff0f05"/>
<path d="M888.7 281.7L921.3 273L889.1 267.3L856.5 276.7Z" fill="#ff0f05"/>
<path d="M953.9 279.3L986.1 274.4L953.5 267.3L921.3 273Z" fill="#ff0f05"/>
<path d="M432 476.8L466.6 438.6L437.8 441.5L403.4 480.2Z" fill="#abf500"/>
<path d="M1313.4 359.1L1342.6 373.3L1307.8 358.3L1278.5 344.9Z" fill="#ff7e01"/>
<path d="M594.8 370L629 342.7L598.8 342.8L564.8 370.7Z" fill="#ff7701"/>
<path d="M1248.7 334.3L1278.5 344.9L1244.1 331.4L1214.1 321.6Z" fill="#ff3e03"/>
<path d="M659.6 343.2L693.5 319.8L662.8 318.7L629 342.7Z" fill="#ff3903"/>
<path d="M495.9 436.2L530.5 401.8L501 403.7L466.6 438.6Z" fill="#ffee00"/>
<path d="M1183.6 314.5L1214.1 321.6L1179.9 309.5L1149.3 303.3Z" fill="#ff0f05"/>
<path d="M1413.3 405.4L1441.5 423.9L1406.1 406.6L1377.7 389Z" fill="#ffd100"/>
<path d="M724.7 321.5L758.4 302L727.2 299.6L693.5 319.8Z" fill="#ff0f05"/>
<path d="M1118.2 299.9L1149.3 303.3L1115.5 292.7L1084.3 290.1Z" fill="#ff0f05"/>
<path d="M790 304.9L823.4 289.3L791.7 285.6L758.4 302Z" fill="#ff0f05"/>
<path d="M560.4 400.5L594.8 370L564.8 370.7L530.5 401.8Z" fill="#ffa400"/>
<path d="M1052.7 290.5L1084.3 290.1L1050.9 281L1019.2 282.1Z" fill="#ff0f05"/>
<path d="M855.6 293.5L888.7 281.7L856.5 276.7L823.4 289.3Z" fill="#ff0f05"/>
<path d="M987 286.3L1019.2 282.1L986.1 274.4L953.9 279.3Z" fill="#ff0f05"/>
<path d="M921.3 287.3L953.9 279.3L921.3 273L888.7 281.7Z" fill="#ff0f05"/>
<path d="M1348.7 374L1377.7 389L1342.6 373.3L1313.4 359.1Z" fill="#ff8b00"/>
<path d="M461.2 473.8L495.9 436.2L466.6 438.6L432 476.8Z" fill="#caf500"/>
<path d="M625.3 369.8L659.6 343.2L629 342.7L594.8 370Z" fill="#ff6002"/>
<path d="M1283.7 347.6L1313.4 359.1L1278.5 344.9L1248.7 334.3Z" fill="#ff4803"/>
<path d="M690.6 344.2L724.7 321.5L693.5 319.8L659.6 343.2Z" fill="#ff2404"/>
<path d="M1218.3 326.4L1248.7 334.3L1214.1 321.6L1183.6 314.5Z" fill="#ff1105"/>
<path d="M525.7 434.2L560.4 400.5L530.5 401.8L495.9 436.2Z" fill="#ffd500"/>
<path d="M756.3 323.7L790 304.9L758.4 302L724.7 321.5Z" fill="#ff0f05"/>
<path d="M1152.5 310.3L1183.6 314.5L1149.3 303.3L1118.2 299.9Z" fill="#ff0f05"/>
<path d="M822.1 308.4L855.6 293.5L823.4 289.3L790 304.9Z" fill="#ff0f05"/>
<path d="M1086.6 299.5L1118.2 299.9L1084.3 290.1L1052.7 290.5Z" fill="#ff0f05"/>
<path d="M1384.4 389.6L1413.3 405.4L1377.7 389L1348.7 374Z" fill="#ff9800"/>
<path d="M888.2 298.3L921.3 287.3L888.7 281.7L855.6 293.5Z" fill="#ff0f05"/>
<path d="M590.7 399.7L625.3 369.8L594.8 370L560.4 400.5Z" fill="#ff8e00"/>
<path d="M1020.5 293.8L1052.7 290.5L1019.2 282.1L987 286.3Z" fill="#ff0f05"/>
<path d="M954.4 293.4L987 286.3L953.9 279.3L921.3 287.3Z" fill="#ff0f05"/>
<path d="M1319.1 361.7L1348.7 374L1313.4 359.1L1283.7 347.6Z" fill="#ff5302"/>
<path d="M490.8 471.3L525.7 434.2L495.9 436.2L461.2 473.8Z" fill="#e7f500"/>
<path d="M656.2 370.1L690.6 344.2L659.6 343.2L625.3 369.8Z" fill="#ff4903"/>
<path d="M1253.4 339L1283.7 347.6L1248.7 334.3L1218.3 326.4Z" fill="#ff1905"/>
<path d="M722.1 345.7L756.3 323.7L724.7 321.5L690.6 344.2Z" fill="#ff1105"/>
<path d="M555.9 432.8L590.7 399.7L560.4 400.5L525.7 434.2Z" fill="#ffbc00"/>
<path d="M1187.3 321.4L1218.3 326.4L1183.6 314.5L1152.5 310.3Z" fill="#ff0f05"/>
<path d="M788.3 326.5L822.1 308.4L790 304.9L756.3 323.7Z" fill="#ff0f05"/>
<path d="M1121 309.1L1152.5 310.3L1118.2 299.9L1086.6 299.5Z" fill="#ff0f05"/>
<path d="M854.7 312.5L888.2 298.3L855.6 293.5L822.1 308.4Z" fill="#ff0f05"/>
<path d="M1054.5 302L1086.6 299.5L1052.7 290.5L1020.5 293.8Z" fill="#ff0f05"/>
<path d="M921.3 303.7L954.4 293.4L921.3 287.3L888.2 298.3Z" fill="#ff0f05"/>
<path d="M987.9 300.2L1020.5 293.8L987 286.3L954.4 293.4Z" fill="#ff0f05"/>
<path d="M621.6 399.4L656.2 370.1L625.3 369.8L590.7 399.7Z" fill="#ff7601"/>
<path d="M1355 376.5L1384.4 389.6L1348.7 374L1319.1 361.7Z" fill="#ff5f02"/>
<path d="M687.6 371L722.1 345.7L690.6 344.2L656.2 370.1Z" fill="#ff3404"/>
<path d="M520.8 469.2L555.9 432.8L525.7 434.2L490.8 471.3Z" fill="#fff100"/>
<path d="M1288.9 352.2L1319.1 361.7L1283.7 347.6L1253.4 339Z" fill="#ff2204"/>
<path d="M754.1 347.8L788.3 326.5L756.3 323.7L722.1 345.7Z" fill="#ff0f05"/>
<path d="M1222.5 333.2L1253.4 339L1218.3 326.4L1187.3 321.4Z" fill="#ff0f05"/>
<path d="M820.8 329.9L854.7 312.5L822.1 308.4L788.3 326.5Z" fill="#ff0f05"/>
<path d="M586.6 431.9L621.6 399.4L590.7 399.7L555.9 432.8Z" fill="#ffa500"/>
<path d="M1155.8 319.4L1187.3 321.4L1152.5 310.3L1121 309.1Z" fill="#ff0f05"/>
<path d="M887.7 317.1L921.3 303.7L888.2 298.3L854.7 312.5Z" fill="#ff0f05"/>
<path d="M1088.9 310.8L1121 309.1L1086.6 299.5L1054.5 302Z" fill="#ff0f05"/>
<path d="M954.8 309.7L987.9 300.2L954.4 293.4L921.3 303.7Z" fill="#ff0f05"/>
<path d="M1021.9 307.6L1054.5 302L1020.5 293.8L987.9 300.2Z" fill="#ff0f05"/>
<path d="M652.9 399.6L687.6 371L656.2 370.1L621.6 399.4Z" fill="#ff5e02"/>
<path d="M1324.9 366.2L1355 376.5L1319.1 361.7L1288.9 352.2Z" fill="#ff2d04"/>
<path d="M719.5 372.4L754.1 347.8L722.1 345.7L687.6 371Z" fill="#ff2004"/>
<path d="M551.4 467.7L586.6 431.9L555.9 432.8L520.8 469.2Z" fill="#ffd800"/>
<path d="M1258.2 345.6L1288.9 352.2L1253.4 339L1222.5 333.2Z" fill="#ff0f05"/>
<path d="M786.5 350.5L820.8 329.9L788.3 326.5L754.1 347.8Z" fill="#ff0f05"/>
<path d="M1191.1 330.3L1222.5 333.2L1187.3 321.4L1155.8 319.4Z" fill="#ff0f05"/>
<path d="M853.8 333.8L887.7 317.1L854.7 312.5L820.8 329.9Z" fill="#ff0f05"/>
<path d="M617.8 431.4L652.9 399.6L621.6 399.4L586.6 431.9Z" fill="#ff8f00"/>
<path d="M1123.8 320.3L1155.8 319.4L1121 309.1L1088.9 310.8Z" fill="#ff0f05"/>
<path d="M921.3 322.4L954.8 309.7L921.3 303.7L887.7 317.1Z" fill="#ff0f05"/>
<path d="M1056.3 315.7L1088.9 310.8L1054.5 302L1021.9 307.6Z" fill="#ff0f05"/>
<path d="M988.8 316.4L1021.9 307.6L987.9 300.2L954.8 309.7Z" fill="#ff0f05"/>
<path d="M684.6 400.3L719.5 372.4L687.6 371L652.9 399.6Z" fill="#ff4903"/>
<path d="M751.9 374.4L786.5 350.5L754.1 347.8L719.5 372.4Z" fill="#ff0f05"/>
<path d="M1294.3 358.8L1324.9 366.2L1288.9 352.2L1258.2 345.6Z" fill="#ff0f05"/>
<path d="M582.4 466.7L617.8 431.4L586.6 431.9L551.4 467.7Z" fill="#ffc000"/>
<path d="M819.5 353.7L853.8 333.8L820.8 329.9L786.5 350.5Z" fill="#ff0f05"/>
<path d="M1226.9 341.9L1258.2 345.6L1222.5 333.2L1191.1 330.3Z" fill="#ff0f05"/>
<path d="M887.3 338.3L921.3 322.4L887.7 317.1L853.8 333.8Z" fill="#ff0f05"/>
<path d="M1159.2 330.5L1191.1 330.3L1155.8 319.4L1123.8 320.3Z" fill="#ff0f05"/>
<path d="M955.2 328.3L988.8 316.4L954.8 309.7L921.3 322.4Z" fill="#ff0f05"/>
<path d="M1091.3 324.4L1123.8 320.3L1088.9 310.8L1056.3 315.7Z" fill="#ff0f05"/>
<path d="M649.4 431.5L684.6 400.3L652.9 399.6L617.8 431.4Z" fill="#ff7801"/>
<path d="M1023.3 323.6L1056.3 315.7L1021.9 307.6L988.8 316.4Z" fill="#ff0f05"/>
<path d="M716.9 401.6L751.9 374.4L719.5 372.4L684.6 400.3Z" fill="#ff3404"/>
<path d="M784.8 376.9L819.5 353.7L786.5 350.5L751.9 374.4Z" fill="#ff0f05"/>
<path d="M613.9 466.1L649.4 431.5L617.8 431.4L582.4 466.7Z" fill="#ffaa00"/>
<path d="M1263.1 354.3L1294.3 358.8L1258.2 345.6L1226.9 341.9Z" fill="#ff0f05"/>
<path d="M852.9 357.5L887.3 338.3L853.8 333.8L819.5 353.7Z" fill="#ff0f05"/>
<path d="M1195 341.3L1226.9 341.9L1191.1 330.3L1159.2 330.5Z" fill="#ff0f05"/>
<path d="M921.2 343.5L955.2 328.3L921.3 322.4L887.3 338.3Z" fill="#ff0f05"/>
<path d="M1126.7 333.7L1159.2 330.5L1123.8 320.3L1091.3 324.4Z" fill="#ff0f05"/>
<path d="M989.7 334.8L1023.3 323.6L988.8 316.4L955.2 328.3Z" fill="#ff0f05"/>
<path d="M1058.2 331.5L1091.3 324.4L1056.3 315.7L1023.3 323.6Z" fill="#ff0f05"/>
<path d="M681.6 432.2L716.9 401.6L684.6 400.3L649.4 431.5Z" fill="#ff6102"/>
<path d="M749.7 403.4L784.8 376.9L751.9 374.4L716.9 401.6Z" fill="#ff2004"/>
<path d="M818.1 380L852.9 357.5L819.5 353.7L784.8 376.9Z" fill="#ff0f05"/>
<path d="M886.8 361.9L921.2 343.5L887.3 338.3L852.9 357.5Z" fill="#ff0f05"/>
<path d="M645.9 466.2L681.6 432.2L649.4 431.5L613.9 466.1Z" fill="#ff9400"/>
<path d="M1231.3 352.8L1263.1 354.3L1226.9 341.9L1195 341.3Z" fill="#ff0f05"/>
<path d="M955.7 349.2L989.7 334.8L955.2 328.3L921.2 343.5Z" fill="#ff0f05"/>
<path d="M1162.5 343.8L1195 341.3L1159.2 330.5L1126.7 333.7Z" fill="#ff0f05"/>
<path d="M1024.7 341.9L1058.2 331.5L1023.3 323.6L989.7 334.8Z" fill="#ff0f05"/>
<path d="M1093.6 340.1L1126.7 333.7L1091.3 324.4L1058.2 331.5Z" fill="#ff0f05"/>
<path d="M714.2 433.4L749.7 403.4L716.9 401.6L681.6 432.2Z" fill="#ff4b03"/>
<path d="M782.9 405.9L818.1 380L784.8 376.9L749.7 403.4Z" fill="#ff0f05"/>
<path d="M852 383.7L886.8 361.9L852.9 357.5L818.1 380Z" fill="#ff0f05"/>
<path d="M921.2 366.9L955.7 349.2L921.2 343.5L886.8 361.9Z" fill="#ff0f05"/>
<path d="M678.5 466.7L714.2 433.4L681.6 432.2L645.9 466.2Z" fill="#ff7e01"/>
<path d="M1198.9 354.5L1231.3 352.8L1195 341.3L1162.5 343.8Z" fill="#ff0f05"/>
<path d="M990.6 355.6L1024.7 341.9L989.7 334.8L955.7 349.2Z" fill="#ff0f05"/>
<path d="M1129.6 349.4L1162.5 343.8L1126.7 333.7L1093.6 340.1Z" fill="#ff0f05"/>
<path d="M1060.1 349.7L1093.6 340.1L1058.2 331.5L1024.7 341.9Z" fill="#ff0f05"/>
<path d="M747.4 435.1L782.9 405.9L749.7 403.4L714.2 433.4Z" fill="#ff3703"/>
<path d="M816.7 408.9L852 383.7L818.1 380L782.9 405.9Z" fill="#ff0f05"/>
<path d="M886.3 388L921.2 366.9L886.8 361.9L852 383.7Z" fill="#ff0f05"/>
<path d="M956.2 372.6L990.6 355.6L955.7 349.2L921.2 366.9Z" fill="#ff0f05"/>
<path d="M1026.1 362.6L1060.1 349.7L1024.7 341.9L990.6 355.6Z" fill="#ff0f05"/>
<path d="M1166 359.3L1198.9 354.5L1162.5 343.8L1129.6 349.4Z" fill="#ff0f05"/>
<path d="M711.5 467.8L747.4 435.1L714.2 433.4L678.5 466.7Z" fill="#ff6701"/>
<path d="M1096.1 358.2L1129.6 349.4L1093.6 340.1L1060.1 349.7Z" fill="#ff0f05"/>
<path d="M781.1 437.5L816.7 408.9L782.9 405.9L747.4 435.1Z" fill="#ff2404"/>
<path d="M851 412.5L886.3 388L852 383.7L816.7 408.9Z" fill="#ff0f05"/>
<path d="M921.2 392.9L956.2 372.6L921.2 366.9L886.3 388Z" fill="#ff0f05"/>
<path d="M991.6 378.9L1026.1 362.6L990.6 355.6L956.2 372.6Z" fill="#ff0f05"/>
<path d="M1062.1 370.3L1096.1 358.2L1060.1 349.7L1026.1 362.6Z" fill="#ff0f05"/>
<path d="M1132.5 367.3L1166 359.3L1129.6 349.4L1096.1 358.2Z" fill="#ff0f05"/>
<path d="M745.1 469.5L781.1 437.5L747.4 435.1L711.5 467.8Z" fill="#ff5202"/>
<path d="M815.3 440.4L851 412.5L816.7 408.9L781.1 437.5Z" fill="#ff1305"/>
<path d="M885.9 416.7L921.2 392.9L886.3 388L851 412.5Z" fill="#ff0f05"/>
<path d="M956.6 398.5L991.6 378.9L956.2 372.6L921.2 392.9Z" fill="#ff0f05"/>
<path d="M1027.6 385.8L1062.1 370.3L1026.1 362.6L991.6 378.9Z" fill="#ff0f05"/>
<path d="M1098.6 378.7L1132.5 367.3L1096.1 358.2L1062.1 370.3Z" fill="#ff0f05"/>
<path d="M779.2 471.8L815.3 440.4L781.1 437.5L745.1 469.5Z" fill="#ff3e03"/>
<path d="M850.1 443.9L885.9 416.7L851 412.5L815.3 440.4Z" fill="#ff0f05"/>
<path d="M921.2 421.5L956.6 398.5L921.2 392.9L885.9 416.7Z" fill="#ff0f05"/>
<path d="M992.6 404.7L1027.6 385.8L991.6 378.9L956.6 398.5Z" fill="#ff0f05"/>
<path d="M1064.1 393.4L1098.6 378.7L1062.1 370.3L1027.6 385.8Z" fill="#ff0f05"/>
<path d="M813.9 474.7L850.1 443.9L815.3 440.4L779.2 471.8Z" fill="#ff2c04"/>
<path d="M885.4 448.1L921.2 421.5L885.9 416.7L850.1 443.9Z" fill="#ff0f05"/>
<path d="M957.1 427L992.6 404.7L956.6 398.5L921.2 421.5Z" fill="#ff0f05"/>
<path d="M1029.1 411.5L1064.1 393.4L1027.6 385.8L992.6 404.7Z" fill="#ff0f05"/>
<path d="M849.1 478.1L885.4 448.1L850.1 443.9L813.9 474.7Z" fill="#ff1b05"/>
<path d="M921.2 452.8L957.1 427L921.2 421.5L885.4 448.1Z" fill="#ff0f05"/>
<path d="M993.6 433.1L1029.1 411.5L992.6 404.7L957.1 427Z" fill="#ff0f05"/>
<path d="M884.9 482.2L921.2 452.8L885.4 448.1L849.1 478.1Z" fill="#ff0f05"/>
<path d="M957.6 458.3L993.6 433.1L957.1 427L921.2 452.8Z" fill="#ff0f05"/>
<path d="M921.2 487L957.6 458.3L921.2 452.8L884.9 482.2Z" fill="#ff0f05"/>
</g>
<g fill="#000">
<circle cx="307.7" cy="796.4" r="6.0"/>
<circle cx="302.6" cy="691.8" r="6.0"/>
<circle cx="297.4" cy="587.2" r="6.0"/>
<circle cx="292.3" cy="482.6" r="6.0"/>
<circle cx="287.2" cy="377.9" r="6.0"/>
<circle cx="282" cy="273.3" r="6.0"/>
<circle cx="276.9" cy="168.7" r="6.0"/>
<circle cx="317.3" cy="992.4" r="6.0"/>
<circle cx="438.1" cy="1050" r="6.0"/>
<circle cx="559" cy="1107.6" r="6.0"/>
<circle cx="679.8" cy="1165.2" r="6.0"/>
<circle cx="800.7" cy="1222.8" r="6.0"/>
<circle cx="921.5" cy="1280.4" r="6.0"/>
<circle cx="1072.5" cy="1208.4" r="6.0"/>
<circle cx="1223.5" cy="1136.4" r="6.0"/>
<circle cx="1374.6" cy="1064.4" r="6.0"/>
<circle cx="1525.6" cy="992.4" r="6.0"/>
</g>
<g font-family="'Liberation Sans', sans-serif" font-size="41.3" fill="#3a3a3a">
<text x="206.9" y="157.9">80</text>
<text x="212.9" y="262.6">70</text>
<text x="216.6" y="367.5">60</text>
<text x="221.8" y="470">50</text>
<text x="225.5" y="575">40</text>
<text x="232.9" y="680.4">30</text>
<text x="235.9" y="784.6">20</text>
<text x="246.3" y="1035.9">60</text>
<text x="368" y="1094.6">49</text>
<text x="490.1" y="1151.5">38</text>
<text x="610.6" y="1210.2">27</text>
<text x="730.9" y="1269.3">16</text>
<text x="876.7" y="1325.7">5</text>
<text x="942.8" y="1325.7">100</text>
<text x="1093.3" y="1254.6">200</text>
<text x="1245.9" y="1182">300</text>
<text x="1395.2" y="1110.8">400</text>
<text x="1547.3" y="1035.9">500</text>
</g>
<g font-family="'Liberation Serif', serif" font-weight="bold" font-size="45" letter-spacing="0.9" fill="#101018">
<text x="16" y="637.3">COD (%)</text>
<text x="285.5" y="1269.3">Reaction Time (min)</text>
<text x="1217.5" y="1273.4">Fe+2 (mg/L)</text>
</g>
</svg>
</body></html>
